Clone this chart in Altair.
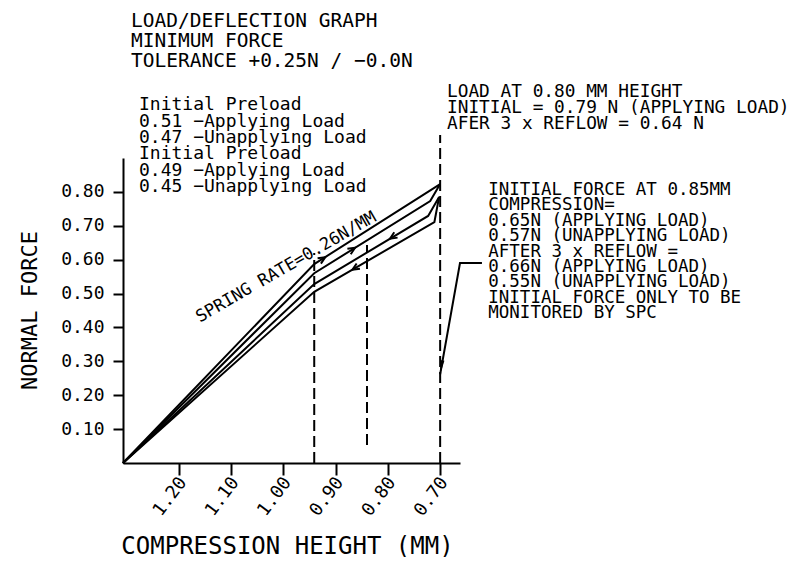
import altair as alt
import pandas as pd

FONT = "DejaVu Sans Mono"

# ---- curves: compression height (mm) vs normal force (N) ----
init_apply_h = [1.307, 0.941, 0.700]
init_apply_f = [0.0, 0.587, 0.823]
init_unapply_h = [1.307, 0.941, 0.719, 0.700]
init_unapply_f = [0.0, 0.560, 0.773, 0.823]
reflow_apply_h = [1.307, 0.941, 0.723, 0.702]
reflow_apply_f = [0.0, 0.528, 0.729, 0.785]
reflow_unapply_h = [1.307, 0.941, 0.711, 0.702]
reflow_unapply_f = [0.0, 0.505, 0.711, 0.785]

x_ticks = [1.20, 1.10, 1.00, 0.90, 0.80, 0.70]
y_ticks = [0.10, 0.20, 0.30, 0.40, 0.50, 0.60, 0.70, 0.80]

# dashed reference lines
ref_h = [0.941, 0.840, 0.700]
ref_f_low = [0.0, 0.053, 0.0]
ref_f_high = [0.62, 0.643, 0.968]

# direction arrows on the curves
arrow_h = [0.920, 0.863, 0.796, 0.868]
arrow_f = [0.607, 0.635, 0.662, 0.570]
arrow_dir = ["right", "right", "left", "left"]

# leader line to the 0.70 reference
leader_h = [0.620, 0.662, 0.700]
leader_f = [0.590, 0.590, 0.262]

title_lines = ["LOAD/DEFLECTION GRAPH", "MINIMUM FORCE", "TOLERANCE +0.25N / −0.0N"]
preload_lines = ["Initial Preload", "0.51 −Applying Load", "0.47 −Unapplying Load",
                 "Initial Preload", "0.49 −Applying Load", "0.45 −Unapplying Load"]
load_lines = ["LOAD AT 0.80 MM HEIGHT", "INITIAL = 0.79 N (APPLYING LOAD)",
              "AFER 3 x REFLOW = 0.64 N"]
force_lines = ["INITIAL FORCE AT 0.85MM", "COMPRESSION=", "0.65N (APPLYING LOAD)",
               "0.57N (UNAPPLYING LOAD)", "AFTER 3 x REFLOW =", "0.66N (APPLYING LOAD)",
               "0.55N (UNAPPLYING LOAD)", "INITIAL FORCE ONLY TO BE", "MONITORED BY SPC"]
spring_text = "SPRING RATE=0.26N/MM"

# ---- build tables ----
rows = []
for name, hs, fs in [("init_apply", init_apply_h, init_apply_f),
                     ("init_unapply", init_unapply_h, init_unapply_f),
                     ("reflow_apply", reflow_apply_h, reflow_apply_f),
                     ("reflow_unapply", reflow_unapply_h, reflow_unapply_f)]:
    for i, (h, f) in enumerate(zip(hs, fs)):
        rows.append({"series": name, "i": i, "h": h, "f": f})
curves = pd.DataFrame(rows)
refs = pd.DataFrame({"h": ref_h, "lo": ref_f_low, "hi": ref_f_high})
arrows = pd.DataFrame({"h": arrow_h, "f": arrow_f, "dir": arrow_dir})
leader = pd.DataFrame({"h": leader_h, "f": leader_f, "i": list(range(len(leader_h)))})

xscale = alt.Scale(domain=[0.662, 1.307], reverse=True, nice=False, zero=False)
yscale = alt.Scale(domain=[0.0, 0.9], nice=False, zero=False)

common_axis = dict(grid=False, domainColor="black", domainWidth=2, tickColor="black",
                   tickWidth=2, labelColor="black", labelFont=FONT, labelFontSize=18,
                   titleColor="black", titleFont=FONT, titleFontWeight="normal")

xaxis = alt.Axis(values=x_ticks, format=".2f", title="COMPRESSION HEIGHT (MM)",
                 labelAngle=307, labelAlign="right", labelBaseline="middle",
                 labelPadding=4, labelOffset=4, tickSize=12,
                 titleX=164, titleY=90, titleAlign="center", titleBaseline="alphabetic",
                 titleFontSize=24, **common_axis)
yaxis = alt.Axis(values=y_ticks, format=".2f", title="NORMAL FORCE",
                 tickSize=10, labelPadding=9,
                 titleAngle=270, titleX=-87, titleY=152, titleAlign="center",
                 titleBaseline="alphabetic", titleFontSize=22, **common_axis)

X = alt.X("h:Q", scale=xscale, axis=xaxis)
Y = alt.Y("f:Q", scale=yscale, axis=yaxis)

lines = alt.Chart(curves).mark_line(color="black", strokeWidth=2).encode(
    x=X, y=Y, detail="series:N", order="i:Q")

rules = alt.Chart(refs).mark_rule(color="black", strokeWidth=2, strokeDash=[11, 5]).encode(
    x=alt.X("h:Q", scale=xscale, axis=xaxis),
    y=alt.Y("lo:Q", scale=yscale, axis=yaxis), y2="hi:Q")

arr_r = alt.Chart(arrows).transform_filter(alt.datum.dir == "right").mark_point(
    shape="M-1,-0.45L0,0L-1,0.45", filled=False, stroke="black", strokeWidth=2,
    size=196, angle=328, opacity=1).encode(x=X, y=Y)
arr_l = alt.Chart(arrows).transform_filter(alt.datum.dir == "left").mark_point(
    shape="M1,-0.45L0,0L1,0.45", filled=False, stroke="black", strokeWidth=2,
    size=196, angle=328, opacity=1).encode(x=X, y=Y)

lead = alt.Chart(leader).mark_line(color="black", strokeWidth=2).encode(
    x=X, y=Y, order="i:Q")
lead_head = alt.Chart(leader).transform_filter(alt.datum.i == 2).mark_point(
    shape="M0,0L-0.3,-2L0.3,-2Z", filled=True, color="black", size=196, angle=9,
    opacity=1).encode(x=X, y=Y)

one = alt.Data(values=[{"k": 0}])


def block(lines_, h, f, size, lh, angle=0, align="left"):
    return alt.Chart(one).mark_text(
        font=FONT, fontSize=size, lineHeight=lh, align=align, baseline="alphabetic",
        color="black", angle=angle).encode(
        x=alt.datum(h, scale=xscale), y=alt.datum(f, scale=yscale),
        text=alt.value(lines_))


t_title = block(title_lines, 1.2917, 1.286, 19.5, 20)
t_pre = block(preload_lines, 1.2764, 1.041, 18, 16.4)
t_load = block(load_lines, 0.6869, 1.0805, 17.8, 16)
t_force = block(force_lines, 0.6079, 0.7906, 17.5, 15.4)
t_spring = block(spring_text, 0.990, 0.565, 17, 17, angle=330, align="center")

chart = alt.layer(lines, rules, arr_r, arr_l, lead, lead_head,
                  t_title, t_pre, t_load, t_force, t_spring).properties(
    width=337, height=305,
    autosize=alt.AutoSizeParams(type="none"),
    padding={"left": 115, "top": 150, "right": 330, "bottom": 94},
    background="white",
).configure_view(stroke=None)

chart.save("out.html", embed_options={"renderer": "svg", "actions": False})
